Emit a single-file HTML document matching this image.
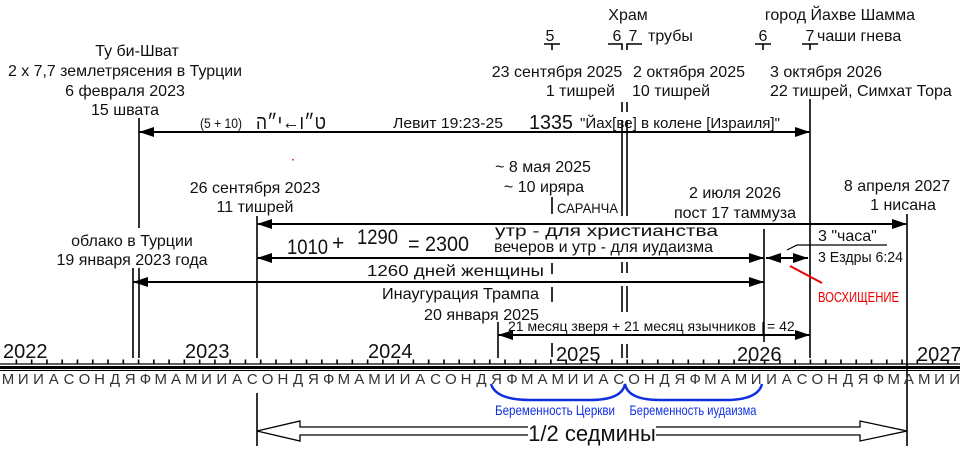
<!DOCTYPE html>
<html><head><meta charset="utf-8"><style>
html,body{margin:0;padding:0;background:#fff;}
svg{display:block;}
text{font-family:"Liberation Sans","DejaVu Sans",sans-serif;fill:#111;}
</style></head><body>
<svg width="960" height="450" viewBox="0 0 960 450" xmlns="http://www.w3.org/2000/svg">
<defs>
<marker id="ae" markerWidth="16" markerHeight="12" refX="15" refY="6" orient="auto" markerUnits="userSpaceOnUse"><path d="M0,1 L15,6 L0,11 Z" fill="#000"/></marker>
<marker id="as" markerWidth="16" markerHeight="12" refX="1" refY="6" orient="auto" markerUnits="userSpaceOnUse"><path d="M16,1 L1,6 L16,11 Z" fill="#000"/></marker>
</defs>
<g stroke="#000" stroke-width="1.6" fill="none">
<line x1="139" y1="118" x2="139" y2="228"/>
<line x1="139" y1="268" x2="139" y2="358"/>
<line x1="133" y1="268" x2="133" y2="358"/>
<line x1="257" y1="216" x2="257" y2="358"/>
<line x1="257" y1="393" x2="257" y2="446"/>
<line x1="622" y1="102" x2="622" y2="112"/><line x1="627" y1="102" x2="627" y2="112"/>
<line x1="622" y1="120" x2="622" y2="216"/><line x1="627" y1="120" x2="627" y2="216"/>
<line x1="622" y1="262" x2="622" y2="273"/><line x1="627" y1="262" x2="627" y2="273"/>
<line x1="622" y1="286" x2="622" y2="312"/><line x1="627" y1="286" x2="627" y2="312"/>
<line x1="622" y1="344" x2="622" y2="358"/><line x1="627" y1="344" x2="627" y2="358"/>
<line x1="552" y1="197" x2="552" y2="214"/>
<line x1="552" y1="263" x2="552" y2="274"/>
<line x1="552" y1="287" x2="552" y2="302"/>
<line x1="552" y1="343" x2="552" y2="357"/>
<line x1="498" y1="322" x2="498" y2="358"/>
<line x1="764" y1="229" x2="764" y2="342"/>
<line x1="810" y1="99" x2="810" y2="358"/>
<line x1="907" y1="214" x2="907" y2="446"/>
<path d="M544,44 H560 M552,44 V50"/>
<path d="M608,44 H622 V50 M642,44 H627 V50"/>
<path d="M755,44 H771 M763,44 V50"/>
<path d="M802,44 H818 M810,44 V50"/>
<line x1="139" y1="132" x2="810" y2="132" marker-start="url(#as)" marker-end="url(#ae)" stroke-width="2"/>
<line x1="257" y1="224" x2="907" y2="224" marker-start="url(#as)" marker-end="url(#ae)" stroke-width="2"/>
<line x1="257" y1="258" x2="764" y2="258" marker-start="url(#as)" marker-end="url(#ae)" stroke-width="2"/>
<line x1="766" y1="258" x2="808" y2="258" marker-start="url(#as)" marker-end="url(#ae)" stroke-width="2"/>
<line x1="133" y1="282" x2="764" y2="282" marker-start="url(#as)" marker-end="url(#ae)" stroke-width="2"/>
<line x1="498" y1="335" x2="810" y2="335" marker-start="url(#as)" marker-end="url(#ae)" stroke-width="2"/>
<line x1="763" y1="322" x2="763" y2="334" stroke-width="1.2"/>
<path d="M787,250 L797,245 H887" stroke-width="1.2"/>
<path d="M257,431 L300,421 L300,427 L860,427 L860,421 L907,431 L860,441 L860,435 L300,435 L300,441 Z" stroke-width="1.3" fill="#fff"/>
<line x1="0" y1="364" x2="960" y2="364" stroke-width="1.2"/>
<line x1="0" y1="367.5" x2="960" y2="367.5" stroke-width="3"/>
<line x1="0" y1="370.5" x2="960" y2="370.5" stroke-width="1"/>
<line x1="15.6" y1="361.5" x2="960" y2="361.5" stroke-width="4" stroke-dasharray="1.6 13.67"/>
</g>
<rect x="528" y="424" width="128" height="16" fill="#fff"/>
<line x1="790" y1="266" x2="822" y2="283" stroke="#e00" stroke-width="2"/>
<rect x="292" y="159" width="2" height="1.5" fill="#e44"/>
<path d="M491,384 Q496,400 530,400 H590 Q622,400 625,384 Q628,400 660,400 H725 Q758,400 762,384" stroke="#1030e0" stroke-width="2.5" fill="none"/>
<g font-size="16" text-anchor="middle">
<text x="137" y="56">Ту би-Шват</text>
<text x="125" y="76" textLength="234" lengthAdjust="spacingAndGlyphs">2 x 7,7 землетрясения в Турции</text>
<text x="125" y="96">6 февраля 2023</text>
<text x="125" y="115">15 швата</text>
<text x="628" y="20">Храм</text>
<text x="840" y="20">город Йахве Шамма</text>
<text x="557" y="77">23 сентября 2025</text>
<text x="689" y="77">2 октября 2025</text>
<text x="826" y="77">3 октября 2026</text>
<text x="543" y="172">~ 8 мая 2025</text>
<text x="544" y="192">~ 10 иряра</text>
<text x="255" y="193">26 сентября 2023</text>
<text x="255" y="212">11 тишрей</text>
<text x="735" y="198">2 июля 2026</text>
<text x="735" y="218">пост 17 таммуза</text>
<text x="897" y="191">8 апреля 2027</text>
<text x="903" y="210">1 нисана</text>
<text x="132" y="246">облако в Турции</text>
<text x="132" y="265">19 января 2023 года</text>
</g>
<g font-size="16">
<text x="550" y="41" text-anchor="middle">5</text>
<text x="617" y="41" text-anchor="middle">6</text>
<text x="633" y="41" text-anchor="middle">7</text>
<text x="648" y="41">трубы</text>
<text x="763" y="41" text-anchor="middle">6</text>
<text x="810" y="41" text-anchor="middle">7</text>
<text x="817" y="41">чаши гнева</text>
<text x="615" y="96" text-anchor="end">1 тишрей</text>
<text x="632" y="96">10 тишрей</text>
<text x="770" y="96">22 тишрей, Симхат Тора</text>
<text x="495" y="236" textLength="223" lengthAdjust="spacingAndGlyphs">утр  - для христианства</text>
<text x="494" y="252" textLength="219" lengthAdjust="spacingAndGlyphs">вечеров и утр - для иудаизма</text>
<text x="367" y="276" textLength="177" lengthAdjust="spacingAndGlyphs">1260 дней женщины</text>
<text x="382" y="299" textLength="157" lengthAdjust="spacingAndGlyphs">Инаугурация Трампа</text>
<text x="424" y="320" textLength="115" lengthAdjust="spacingAndGlyphs">20 января 2025</text>
<text x="818" y="241">3 "часа"</text>
<text x="818" y="262" font-size="15" textLength="85" lengthAdjust="spacingAndGlyphs">3 Ездры 6:24</text>
<text x="818" y="302" font-size="15" style="fill:#e00" textLength="81" lengthAdjust="spacingAndGlyphs">ВОСХИЩЕНИЕ</text>
<text x="557" y="213" font-size="14" textLength="61" lengthAdjust="spacingAndGlyphs">САРАНЧА</text>
<text x="508" y="331" font-size="14" textLength="248" lengthAdjust="spacingAndGlyphs">21 месяц зверя + 21 месяц язычников</text>
<text x="767" y="331" font-size="14">= 42</text>
<text x="200" y="128" font-size="14" textLength="42" lengthAdjust="spacingAndGlyphs">(5 + 10)</text>
<text x="256" y="129" font-size="20" font-family="DejaVu Sans, sans-serif" style="unicode-bidi:bidi-override;direction:ltr" textLength="70" lengthAdjust="spacingAndGlyphs">ה״י←ו״ט</text>
<text x="393" y="128" font-size="15" textLength="110" lengthAdjust="spacingAndGlyphs">Левит 19:23-25</text>
<text x="529" y="129" font-size="20" textLength="44" lengthAdjust="spacingAndGlyphs">1335</text>
<text x="580" y="128" font-size="15" textLength="200" lengthAdjust="spacingAndGlyphs">"Йах[ве] в колене [Израиля]"</text>
<text x="287" y="254" font-size="21" textLength="41" lengthAdjust="spacingAndGlyphs">1010</text>
<text x="332" y="250" font-size="21">+</text>
<text x="357" y="244" font-size="21" textLength="41" lengthAdjust="spacingAndGlyphs">1290</text>
<text x="408" y="251" font-size="21" textLength="61" lengthAdjust="spacingAndGlyphs">= 2300</text>
<text x="3" y="358" font-size="20">2022</text>
<text x="185" y="358" font-size="20">2023</text>
<text x="368" y="358" font-size="20">2024</text>
<text x="556" y="361" font-size="20">2025</text>
<text x="737" y="361" font-size="20">2026</text>
<text x="917" y="361" font-size="20">2027</text>
<text x="555" y="415" font-size="14" style="fill:#1030e0" text-anchor="middle" textLength="120" lengthAdjust="spacingAndGlyphs">Беременность Церкви</text>
<text x="693" y="415" font-size="14" style="fill:#1030e0" text-anchor="middle" textLength="127" lengthAdjust="spacingAndGlyphs">Беременность иудаизма</text>
<text x="592" y="441" font-size="22" text-anchor="middle">1/2 седмины</text>
</g>
<text font-size="15" text-anchor="middle" y="384" style="fill:#333" x="8 23.3 38.5 53.8 69.1 84.4 99.6 114.9 130.2 145.4 160.7 176 191.2 206.5 221.8 237.1 252.3 267.6 282.9 298.1 313.4 328.7 343.9 359.2 374.5 389.8 405 420.3 435.6 450.8 466.1 481.4 496.6 511.9 527.2 542.5 557.7 573 588.3 603.5 618.8 634.1 649.3 664.6 679.9 695.2 710.4 725.7 741 756.2 771.5 786.8 802 817.3 832.6 847.9 863.1 878.4 893.7 908.9 924.2 939.5 954.7">МИИАСОНДЯФМАМИИАСОНДЯФМАМИИАСОНДЯФМАМИИАСОНДЯФМАМИИАСОНДЯФМАМИИ</text>
</svg>
</body></html>
